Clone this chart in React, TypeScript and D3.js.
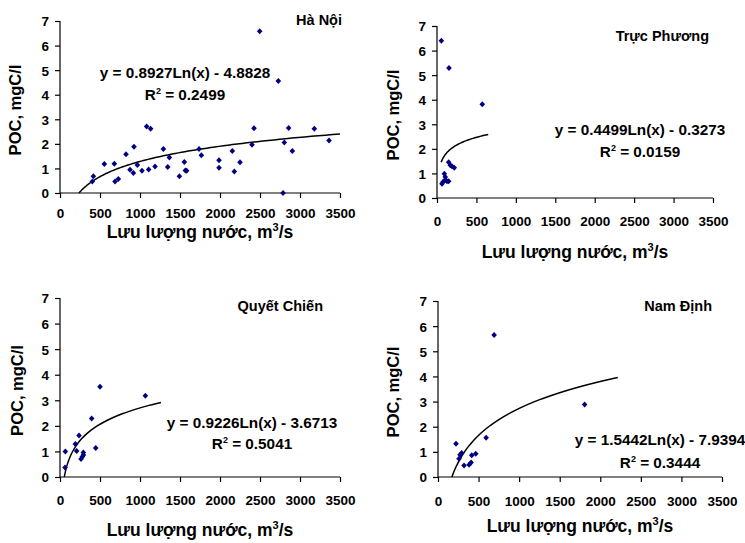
import React, { useRef, useEffect } from "react";
import * as d3 from "d3";

// tick values shared by all four panels
const xTicks = [0, 500, 1000, 1500, 2000, 2500, 3000, 3500];
const yTicks = [0, 1, 2, 3, 4, 5, 6, 7];

// station names
const stations = ["Hà Nội", "Trực Phương", "Quyết Chiến", "Nam Định"];

// Hà Nội: discharge (m3/s) and POC (mgC/l)
const haNoiQ = [404, 417, 554, 679, 688, 729, 825, 875, 917, 925, 967, 1025, 1083, 1108, 1133, 1188, 1292, 1346, 1367, 1492, 1554, 1567, 1583, 1738, 1767, 1988, 1988, 2154, 2179, 2250, 2400, 2425, 2496, 2729, 2788, 2804, 2858, 2904, 3179, 3363];
const haNoiPOC = [0.47, 0.68, 1.18, 1.19, 0.47, 0.57, 1.58, 0.95, 0.81, 1.88, 1.14, 0.91, 2.71, 0.96, 2.61, 1.08, 1.79, 1.06, 1.44, 0.68, 1.26, 0.92, 0.91, 1.79, 1.54, 1.33, 1.03, 1.71, 0.88, 1.25, 1.96, 2.64, 6.58, 4.56, 0.0, 2.06, 2.65, 1.71, 2.61, 2.14];

// Trực Phương
const trucPhuongQ = [55, 152, 574, 148, 169, 190, 219, 93, 105, 76, 105, 127, 148, 63];
const trucPhuongPOC = [6.4, 5.29, 3.82, 1.46, 1.33, 1.29, 1.23, 0.99, 0.85, 0.65, 0.74, 0.68, 0.68, 0.58];

// Quyết Chiến
const quyetChienQ = [67, 63, 192, 208, 238, 263, 279, 292, 292, 396, 446, 500, 1067];
const quyetChienPOC = [1.0, 0.37, 1.29, 1.02, 1.62, 0.7, 0.79, 0.96, 0.86, 2.29, 1.13, 3.53, 3.18];

// Nam Định
const namDinhQ = [222, 259, 272, 292, 321, 383, 408, 416, 465, 593, 692, 1807];
const namDinhPOC = [1.32, 0.73, 0.88, 0.95, 0.46, 0.49, 0.58, 0.87, 0.92, 1.56, 5.65, 2.88];

// log trendlines y = a*Ln(x) + b, and R2
const trendA = [0.8927, 0.4499, 0.9226, 1.5442];
const trendB = [-4.8828, -0.3273, -3.6713, -7.9394];
const trendR2 = ["0.2499", "0.0159", "0.5041", "0.3444"];
const trendFrom = [237, 52, 54, 171];
const trendTo = [3500, 650, 1262, 2215];

const seriesQ = [haNoiQ, trucPhuongQ, quyetChienQ, namDinhQ];
const seriesPOC = [haNoiPOC, trucPhuongPOC, quyetChienPOC, namDinhPOC];

// where each small chart sits on the page
const layout = [
  { left: 60, right: 340, top: 21, bottom: 193, tickY: 218, titleY: 238, yTitleX: 15, nameX: 342, nameY: 25, eqX: 185, eqY: 78, r2Y: 100 },
  { left: 437, right: 713, top: 26, bottom: 198, tickY: 226, titleY: 258, yTitleX: 393, nameX: 709, nameY: 41, eqX: 640, eqY: 135, r2Y: 157 },
  { left: 60, right: 340, top: 298, bottom: 477, tickY: 505, titleY: 536, yTitleX: 17, nameX: 323, nameY: 311, eqX: 252, eqY: 428, r2Y: 449 },
  { left: 438, right: 722, top: 301, bottom: 477, tickY: 506, titleY: 532, yTitleX: 393, nameX: 712, nameY: 311, eqX: 660, eqY: 445, r2Y: 468 },
];

const font = "'Liberation Sans', Arial, sans-serif";
const diamond = "M0,-3L2.8,0L0,3L-2.8,0Z";

const fmtEq = (a: number, b: number) =>
  `y = ${a.toFixed(4)}Ln(x) ${b < 0 ? "-" : "+"} ${Math.abs(b).toFixed(4)}`;

const App = () => {
  const svgRef = useRef<SVGSVGElement>(null);

  useEffect(() => {
    const svg = d3.select(svgRef.current);
    svg.selectAll("*").remove();

    layout.forEach((L, i) => {
      const x = d3.scaleLinear().domain([0, 3500]).range([L.left, L.right]);
      const y = d3.scaleLinear().domain([0, 7]).range([L.bottom, L.top]);
      const g = svg.append("g").attr("font-family", font).attr("font-weight", "bold");

      // axes
      const xAxis = d3.axisBottom(x).tickValues(xTicks).tickSize(5).tickPadding(9).tickFormat(d3.format("d"));
      const gx = g.append("g").attr("transform", `translate(0,${L.bottom})`).call(xAxis);
      const yAxis = d3.axisLeft(y).tickValues(yTicks).tickSize(5).tickPadding(6).tickFormat(d3.format("d"));
      const gy = g.append("g").attr("transform", `translate(${L.left},0)`).call(yAxis);
      [gx, gy].forEach((a) => {
        a.select(".domain").attr("stroke", "#000").attr("stroke-width", 1.2);
        a.selectAll(".tick line").attr("stroke", "#000").attr("stroke-width", 1.2);
        a.selectAll(".tick text").attr("fill", "#000").attr("font-size", 13.5).attr("font-family", font).attr("font-weight", "bold");
      });
      gx.select(".domain").attr("d", `M${L.left},0H${L.right}`);
      gy.select(".domain").attr("d", `M0,${L.bottom}V${L.top}`);
      gx.selectAll(".tick text").attr("dy", null).attr("y", L.tickY - L.bottom);
      gy.selectAll(".tick text").attr("dy", "0.36em");

      // axis titles
      const xt = g.append("text").attr("x", (L.left + L.right) / 2).attr("y", L.titleY)
        .attr("text-anchor", "middle").attr("font-size", 17.5);
      xt.append("tspan").text("Lưu lượng nước, m");
      xt.append("tspan").attr("font-size", 11).attr("dy", -7).text("3");
      xt.append("tspan").attr("dy", 7).text("/s");

      g.append("text")
        .attr("transform", `translate(${L.yTitleX},${(L.top + L.bottom) / 2 + 3}) rotate(-90)`)
        .attr("text-anchor", "middle").attr("dy", "0.35em").attr("font-size", 16.5)
        .text("POC, mgC/l");

      // trend line
      const samples = d3.range(0, 101).map((k) => trendFrom[i] * Math.pow(trendTo[i] / trendFrom[i], k / 100));
      const trend = d3.line<number>()
        .x((q) => x(q))
        .y((q) => y(trendA[i] * Math.log(q) + trendB[i]))
        .curve(d3.curveLinear);
      g.append("path").datum(samples).attr("d", trend).attr("fill", "none")
        .attr("stroke", "#000").attr("stroke-width", 1.5);

      // points
      g.selectAll(".pt")
        .data(seriesQ[i].map((q, k) => [q, seriesPOC[i][k]]))
        .join("path")
        .attr("class", "pt")
        .attr("d", diamond)
        .attr("transform", (d) => `translate(${x(d[0])},${y(d[1])})`)
        .attr("fill", "#000080");

      // station name and equation
      g.append("text").attr("x", L.nameX).attr("y", L.nameY).attr("text-anchor", "end")
        .attr("font-size", 14.5).text(stations[i]);
      g.append("text").attr("x", L.eqX).attr("y", L.eqY).attr("text-anchor", "middle")
        .attr("font-size", 15.3).text(fmtEq(trendA[i], trendB[i]));
      const r2 = g.append("text").attr("x", L.eqX).attr("y", L.r2Y).attr("text-anchor", "middle").attr("font-size", 15.3);
      r2.append("tspan").text("R");
      r2.append("tspan").attr("font-size", 9).attr("dy", -6).text("2");
      r2.append("tspan").attr("dy", 6).text(` = ${trendR2[i]}`);
    });
  }, []);

  return (
    <svg ref={svgRef} width={745} height={543}
      style={{ position: "absolute", left: 0, top: 0, display: "block", background: "#fff" }} />
  );
};

export default App;
